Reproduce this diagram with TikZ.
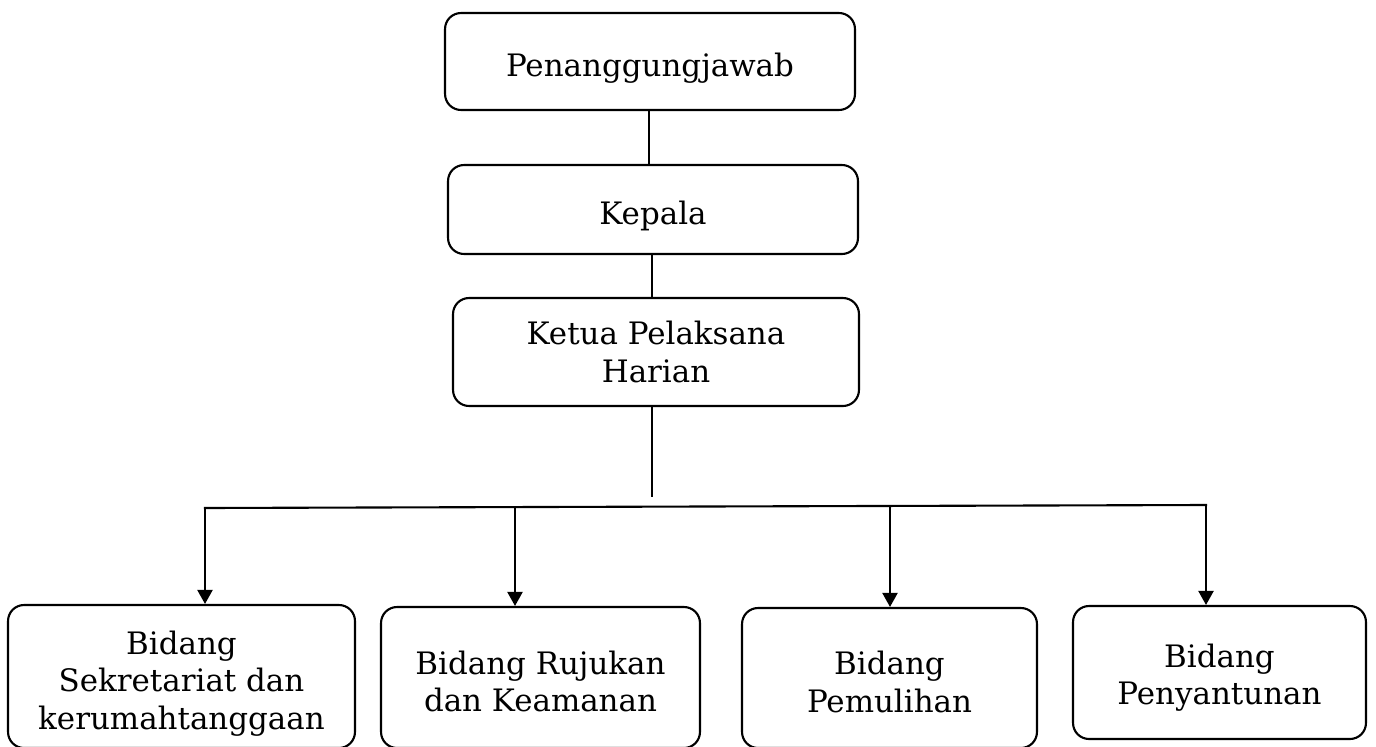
\documentclass[tikz,border=0pt]{standalone}
\usepackage{fontspec}
\setmainfont{DejaVu Serif}
\usetikzlibrary{arrows.meta,calc}
\begin{document}
\begin{tikzpicture}[x=0.02cm,y=-0.02cm,
  box/.style={draw,line width=1.2pt,rounded corners=0.32cm,inner sep=0pt},
  lbl/.style={align=center,inner sep=0pt,font=\fontsize{17.6}{21.2}\selectfont},
  conn/.style={line width=1.2pt},
  hconn/.style={line width=1.2pt,line cap=rect},
  arr/.style={line width=1.2pt,-{Triangle[length=0.28cm,width=0.3cm]}}]
\useasboundingbox (0,0) rectangle (1376,747);
\node[box,minimum width=8.2cm,minimum height=1.94cm,
  label={[lbl,yshift=-0.14cm]center:Penanggungjawab}] (p) at (650,61.5) {};
\node[box,minimum width=8.2cm,minimum height=1.78cm,
  label={[lbl,yshift=-0.12cm]center:Kepala}] (k) at (653,209.5) {};
\node[box,minimum width=8.12cm,minimum height=2.16cm,
  label={[lbl,yshift=0cm]center:{Ketua Pelaksana\\Harian}}] (ke) at (656,352) {};
\node[box,minimum width=6.94cm,minimum height=2.86cm,
  label={[lbl,yshift=-0.14cm]center:{Bidang\\Sekretariat dan\\kerumahtanggaan}}] (b1) at (181.5,676.5) {};
\node[box,minimum width=6.38cm,minimum height=2.82cm,
  label={[lbl,yshift=-0.08cm]center:{Bidang Rujukan\\dan Keamanan}}] (b2) at (540.5,677.5) {};
\node[box,minimum width=5.9cm,minimum height=2.8cm,
  label={[lbl,yshift=-0.08cm]center:{Bidang\\Pemulihan}}] (b3) at (889.5,678) {};
\node[box,minimum width=5.86cm,minimum height=2.66cm,
  label={[lbl,yshift=-0.1cm]center:{Bidang\\Penyantunan}}] (b4) at (1219.5,672.5) {};
\coordinate (c1) at (649,0);
\coordinate (c2) at (652,0);
\coordinate (end) at (652,497);
\coordinate (hl) at (205,508);
\coordinate (hr) at (1206,505);
\coordinate (a2) at (515,507.5);
\coordinate (a3) at (890,506);
\draw[conn] (p.south -| c1) -- (k.north -| c1);
\draw[conn] (k.south -| c2) -- (ke.north -| c2);
\draw[conn] (ke.south -| c2) -- (end);
\draw[hconn] (hl) -- (hr);
\draw[arr] (hl) -- (hl |- b1.north);
\draw[arr] (a2) -- (a2 |- b2.north);
\draw[arr] (a3) -- (a3 |- b3.north);
\draw[arr] (hr) -- (hr |- b4.north);
\end{tikzpicture}
\end{document}
